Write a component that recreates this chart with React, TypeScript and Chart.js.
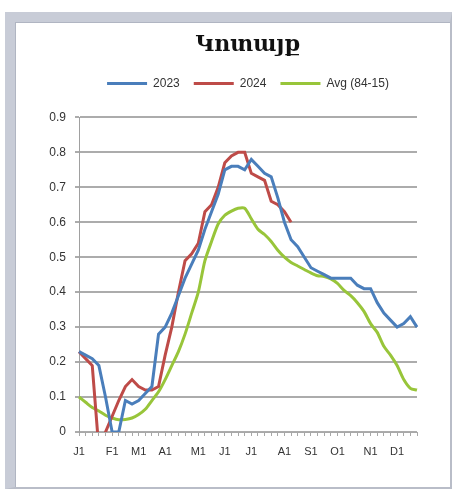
import React, { useEffect, useRef } from "react";
import { Chart, registerables } from "chart.js";

Chart.register(...registerables);

const titleText = "Կոտայք";
const seriesNames = ["2023", "2024", "Avg (84-15)"];
const monthLabels = ["J1", "F1", "M1", "A1", "M1", "J1", "J1", "A1", "S1", "O1", "N1", "D1"];
const monthWeek = [0, 5, 9, 13, 18, 22, 26, 31, 35, 39, 44, 48];
const weekCount = 52;

const values2023 = [
  0.23, 0.22, 0.21, 0.19, 0.1, 0.0, 0.0, 0.09, 0.08, 0.09, 0.11, 0.13, 0.28,
  0.3, 0.34, 0.39, 0.44, 0.48, 0.52, 0.58, 0.63, 0.68, 0.75, 0.76, 0.76, 0.75,
  0.78, 0.76, 0.74, 0.73, 0.67, 0.6, 0.55, 0.53, 0.5, 0.47, 0.46, 0.45, 0.44,
  0.44, 0.44, 0.44, 0.42, 0.41, 0.41, 0.37, 0.34, 0.32, 0.3, 0.31, 0.33, 0.3,
];
const values2024 = [
  0.23, 0.21, 0.19, -0.05, 0.0, 0.045, 0.09, 0.13, 0.15, 0.13, 0.12, 0.12, 0.13,
  0.22, 0.3, 0.4, 0.49, 0.51, 0.54, 0.63, 0.65, 0.7, 0.77, 0.79, 0.8, 0.8,
  0.74, 0.73, 0.72, 0.66, 0.65, 0.63, 0.6,
];
const valuesAvg = [
  0.1, 0.085, 0.07, 0.06, 0.048, 0.04, 0.035, 0.036, 0.04, 0.05, 0.065, 0.09,
  0.115, 0.15, 0.19, 0.23, 0.28, 0.34, 0.4, 0.49, 0.545, 0.595, 0.62, 0.632,
  0.64, 0.64, 0.61, 0.58, 0.565, 0.545, 0.52, 0.5, 0.485, 0.475, 0.465, 0.455,
  0.447, 0.445, 0.438, 0.425, 0.405, 0.39, 0.37, 0.345, 0.31, 0.285, 0.245,
  0.22, 0.19, 0.15, 0.125, 0.12,
];
const yTicks = [0, 0.1, 0.2, 0.3, 0.4, 0.5, 0.6, 0.7, 0.8, 0.9];

const colors = ["#4a7ebb", "#be4b48", "#98c53a"];

export default function App() {
  const ref = useRef<HTMLCanvasElement | null>(null);

  useEffect(() => {
    if (!ref.current) return;
    const labels: string[] = [];
    for (let i = 0; i < weekCount; i++) {
      const k = monthWeek.indexOf(i);
      labels.push(k >= 0 ? monthLabels[k] : "");
    }
    const allSeries = [values2023, values2024, valuesAvg];
    const chart = new Chart(ref.current, {
      type: "line",
      data: {
        labels,
        datasets: allSeries.map((d, i) => ({
          label: seriesNames[i],
          data: d,
          borderColor: colors[i],
          backgroundColor: colors[i],
          borderWidth: 3,
          pointRadius: 0,
          tension: i === 2 ? 0.25 : 0,
          fill: false,
        })),
      },
      options: {
        animation: false,
        responsive: false,
        layout: { padding: { left: 0, right: 33, top: 0, bottom: 25 } },
        plugins: {
          title: {
            display: true,
            text: titleText,
            fullSize: false,
            color: "#111",
            font: { family: "'DejaVu Serif', serif", size: 22, weight: "bold" },
            padding: { top: 10, bottom: 5 },
          },
          legend: {
            display: true,
            fullSize: false,
            labels: {
              boxWidth: 40,
              boxHeight: 3,
              padding: 14,
              color: "#333",
              font: { family: "'Liberation Sans', Arial, sans-serif", size: 12 },
              generateLabels: (c: any) =>
                Chart.defaults.plugins.legend.labels
                  .generateLabels(c)
                  .map((l: any) => ({ ...l, lineWidth: 0 })),
            },
          },
          subtitle: {
            display: true,
            text: "",
            weight: 500,
            fullSize: false,
            font: { size: 10 },
            padding: { top: 0, bottom: 6 },
          } as any,
          tooltip: { enabled: false },
        },
        scales: {
          x: {
            type: "category",
            offset: false,
            grid: {
              drawOnChartArea: false,
              drawTicks: true,
              tickLength: 4,
              color: "#a8a8a8",
            },
            border: { display: true, color: "#a8a8a8", width: 1 },
            ticks: {
              autoSkip: false,
              maxRotation: 0,
              minRotation: 0,
              padding: 9,
              color: "#333",
              font: { family: "'Liberation Sans', Arial, sans-serif", size: 11 },
            },
            afterFit: (s: any) => {
              s.height = 30;
            },
          },
          y: {
            min: 0,
            max: 0.9,
            grid: {
              color: "#acacac",
              lineWidth: 2,
              tickLength: 4,
              drawTicks: true,
            },
            border: { display: true, color: "#a0a0a0", width: 1 },
            afterBuildTicks: (s: any) => {
              s.ticks = yTicks.map((v) => ({ value: v }));
            },
            ticks: {
              padding: 9,
              color: "#333",
              font: { family: "'Liberation Sans', Arial, sans-serif", size: 12 },
              callback: (v: any) => {
                const n = Math.round(Number(v) * 10) / 10;
                return n === 0 ? "0" : n.toFixed(1);
              },
            },
            afterFit: (s: any) => {
              s.width = 64;
            },
          },
        },
      },
    });
    return () => chart.destroy();
  }, []);

  return (
    <div
      style={{
        position: "fixed",
        left: 0,
        top: 0,
        width: 460,
        height: 491,
        background: "#ffffff",
        overflow: "hidden",
      }}
    >
      <div
        style={{
          position: "absolute",
          left: 5,
          top: 12,
          width: 447,
          height: 477,
          boxSizing: "border-box",
          borderLeft: "10px solid #c8ccd7",
          borderTop: "10px solid #c8ccd7",
          borderRight: "2px solid #b9bdc8",
          borderBottom: "2px solid #b9bdc8",
          boxShadow: "inset 1px 1px 0 #b0b5c2",
          background: "#fff",
        }}
      />
      <canvas
        ref={ref}
        width={435}
        height={465}
        style={{ position: "absolute", left: 15, top: 22, width: 435, height: 465 }}
      />
    </div>
  );
}
